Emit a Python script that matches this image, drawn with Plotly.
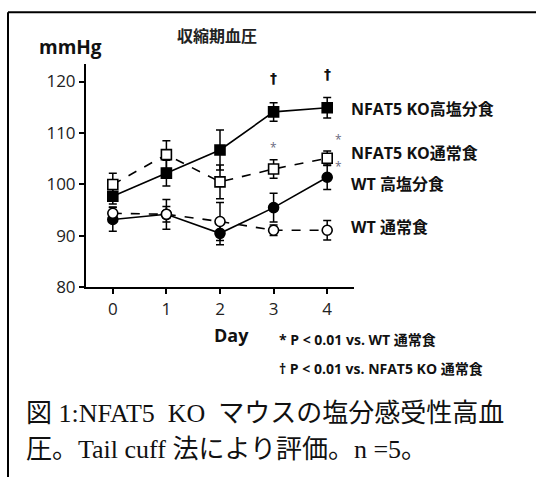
import plotly.graph_objects as go

W, H = 536, 488

days = [0, 1, 2, 3, 4]
x_ticks = [0, 1, 2, 3, 4]
y_ticks = [80, 90, 100, 110, 120]

ko_high = [97.7, 102.2, 106.7, 114.1, 114.9]
ko_high_err = [1.5, 2.5, 3.9, 1.8, 2.0]
ko_norm = [100.0, 105.8, 100.5, 103.0, 105.1]
ko_norm_err = [2.2, 2.7, 3.3, 1.8, 1.4]
wt_high = [93.2, 94.2, 90.5, 95.5, 101.4]
wt_high_err = [2.3, 2.9, 2.2, 2.8, 2.4]
wt_norm = [94.4, 94.2, 92.8, 91.1, 91.1]
wt_norm_err = [1.2, 1.5, 3.7, 1.0, 1.9]

series_labels = ["NFAT5 KO高塩分食", "NFAT5 KO通常食", "WT 高塩分食", "WT 通常食"]

# significance marks (day, value)
star_x = [3, 4.22, 4.22]
star_y = [107.1, 108.8, 103.5]
dagger_x = [3, 4]
dagger_y = [120.6, 121.4]

JP = "Open Sans, Noto Sans CJK JP, sans-serif"
CAP = "Liberation Serif, Noto Sans CJK JP, serif"

fig = go.Figure()

def add(y, err, symbol, fill, dash):
    fig.add_trace(go.Scatter(
        x=days, y=y, mode="lines+markers",
        line=dict(color="black", width=1.6, dash=dash),
        marker=dict(symbol=symbol, size=10, color=fill, line=dict(color="black", width=1.6)),
        error_y=dict(type="data", array=err, visible=True, color="black", thickness=1.5, width=4),
        showlegend=False, cliponaxis=False))

add(wt_high, wt_high_err, "circle", "black", "solid")
add(ko_high, ko_high_err, "square", "black", "solid")
add(wt_norm, wt_norm_err, "circle", "white", "dash")
add(ko_norm, ko_norm_err, "square", "white", "dash")

def px(x):
    return x / W

def py(y):
    return 1 - y / H

anns = []
label_y = [112, 157, 188, 232]
for lab, yy in zip(series_labels, label_y):
    anns.append(dict(text="<b>" + lab + "</b>", x=px(349), y=py(yy), xref="paper", yref="paper",
                     xanchor="left", yanchor="middle", showarrow=False,
                     font=dict(family=JP, size=16, color="#111")))
for sx, sy in zip(star_x, star_y):
    anns.append(dict(text="*", x=sx, y=sy, xref="x", yref="y", showarrow=False,
                     font=dict(family=JP, size=12, color="#6a6a80")))
for dx, dy in zip(dagger_x, dagger_y):
    anns.append(dict(text="<b>†</b>", x=dx, y=dy, xref="x", yref="y", showarrow=False,
                     font=dict(family="DejaVu Sans, sans-serif", size=14, color="#111")))

anns += [
    dict(text="<b>mmHg</b>", x=px(37), y=py(48), xref="paper", yref="paper", xanchor="left",
         yanchor="middle", showarrow=False, font=dict(family=JP, size=19, color="#111")),
    dict(text="<b>収縮期血圧</b>", x=px(217), y=py(37), xref="paper", yref="paper", xanchor="center",
         yanchor="middle", showarrow=False, font=dict(family=JP, size=16, color="#222")),
    dict(text="<b>Day</b>", x=px(231), y=py(343), xref="paper", yref="paper", xanchor="center",
         yanchor="middle", showarrow=False, font=dict(family=JP, size=18, color="#111")),
    dict(text="<b>* P < 0.01 vs. WT 通常食</b>", x=px(277), y=py(347), xref="paper", yref="paper",
         xanchor="left", yanchor="middle", showarrow=False, font=dict(family=JP, size=14, color="#111")),
    dict(text="<b>† P < 0.01 vs. NFAT5 KO 通常食</b>", x=px(277), y=py(377), xref="paper", yref="paper",
         xanchor="left", yanchor="middle", showarrow=False, font=dict(family=JP, size=14, color="#111")),
    dict(text="図 1:NFAT5  KO  マウスの塩分感受性高血", x=px(24), y=py(423), xref="paper", yref="paper",
         xanchor="left", yanchor="middle", showarrow=False, font=dict(family=CAP, size=26, color="#111")),
    dict(text="圧。Tail cuff 法により評価。n =5。", x=px(24), y=py(460), xref="paper", yref="paper",
         xanchor="left", yanchor="middle", showarrow=False, font=dict(family=CAP, size=26, color="#111")),
]

fig.update_layout(
    width=W, height=H,
    margin=dict(l=0, r=0, t=0, b=0),
    paper_bgcolor="white", plot_bgcolor="white",
    annotations=anns,
    shapes=[
        dict(type="line", xref="paper", yref="paper", x0=px(8), x1=1.0, y0=py(12.5), y1=py(12.5),
             line=dict(color="black", width=2)),
        dict(type="line", xref="paper", yref="paper", x0=px(8), x1=px(8), y0=py(12.5), y1=0,
             line=dict(color="black", width=2)),
    ],
    xaxis=dict(domain=[px(86), px(354)], range=[-0.5, 4.5], tickvals=x_ticks,
               showline=True, linecolor="black", linewidth=2, ticks="outside", ticklen=5,
               tickwidth=1.5, tickcolor="black", showgrid=False, zeroline=False,
               tickfont=dict(family=JP, size=17, color="#222")),
    yaxis=dict(domain=[py(294), py(65)], range=[80, 123.5], tickvals=y_ticks,
               showline=True, linecolor="black", linewidth=2, ticks="outside", ticklen=5,
               tickwidth=1.5, tickcolor="black", showgrid=False, zeroline=False,
               tickfont=dict(family=JP, size=17, color="#222")),
)

fig.write_html(
    "out.html",
    config={"displayModeBar": False},
    post_script=(
        "document.body.style.margin='0';"
        "document.body.style.overflow='hidden';"
        "document.documentElement.style.overflow='hidden';"
    ),
)
